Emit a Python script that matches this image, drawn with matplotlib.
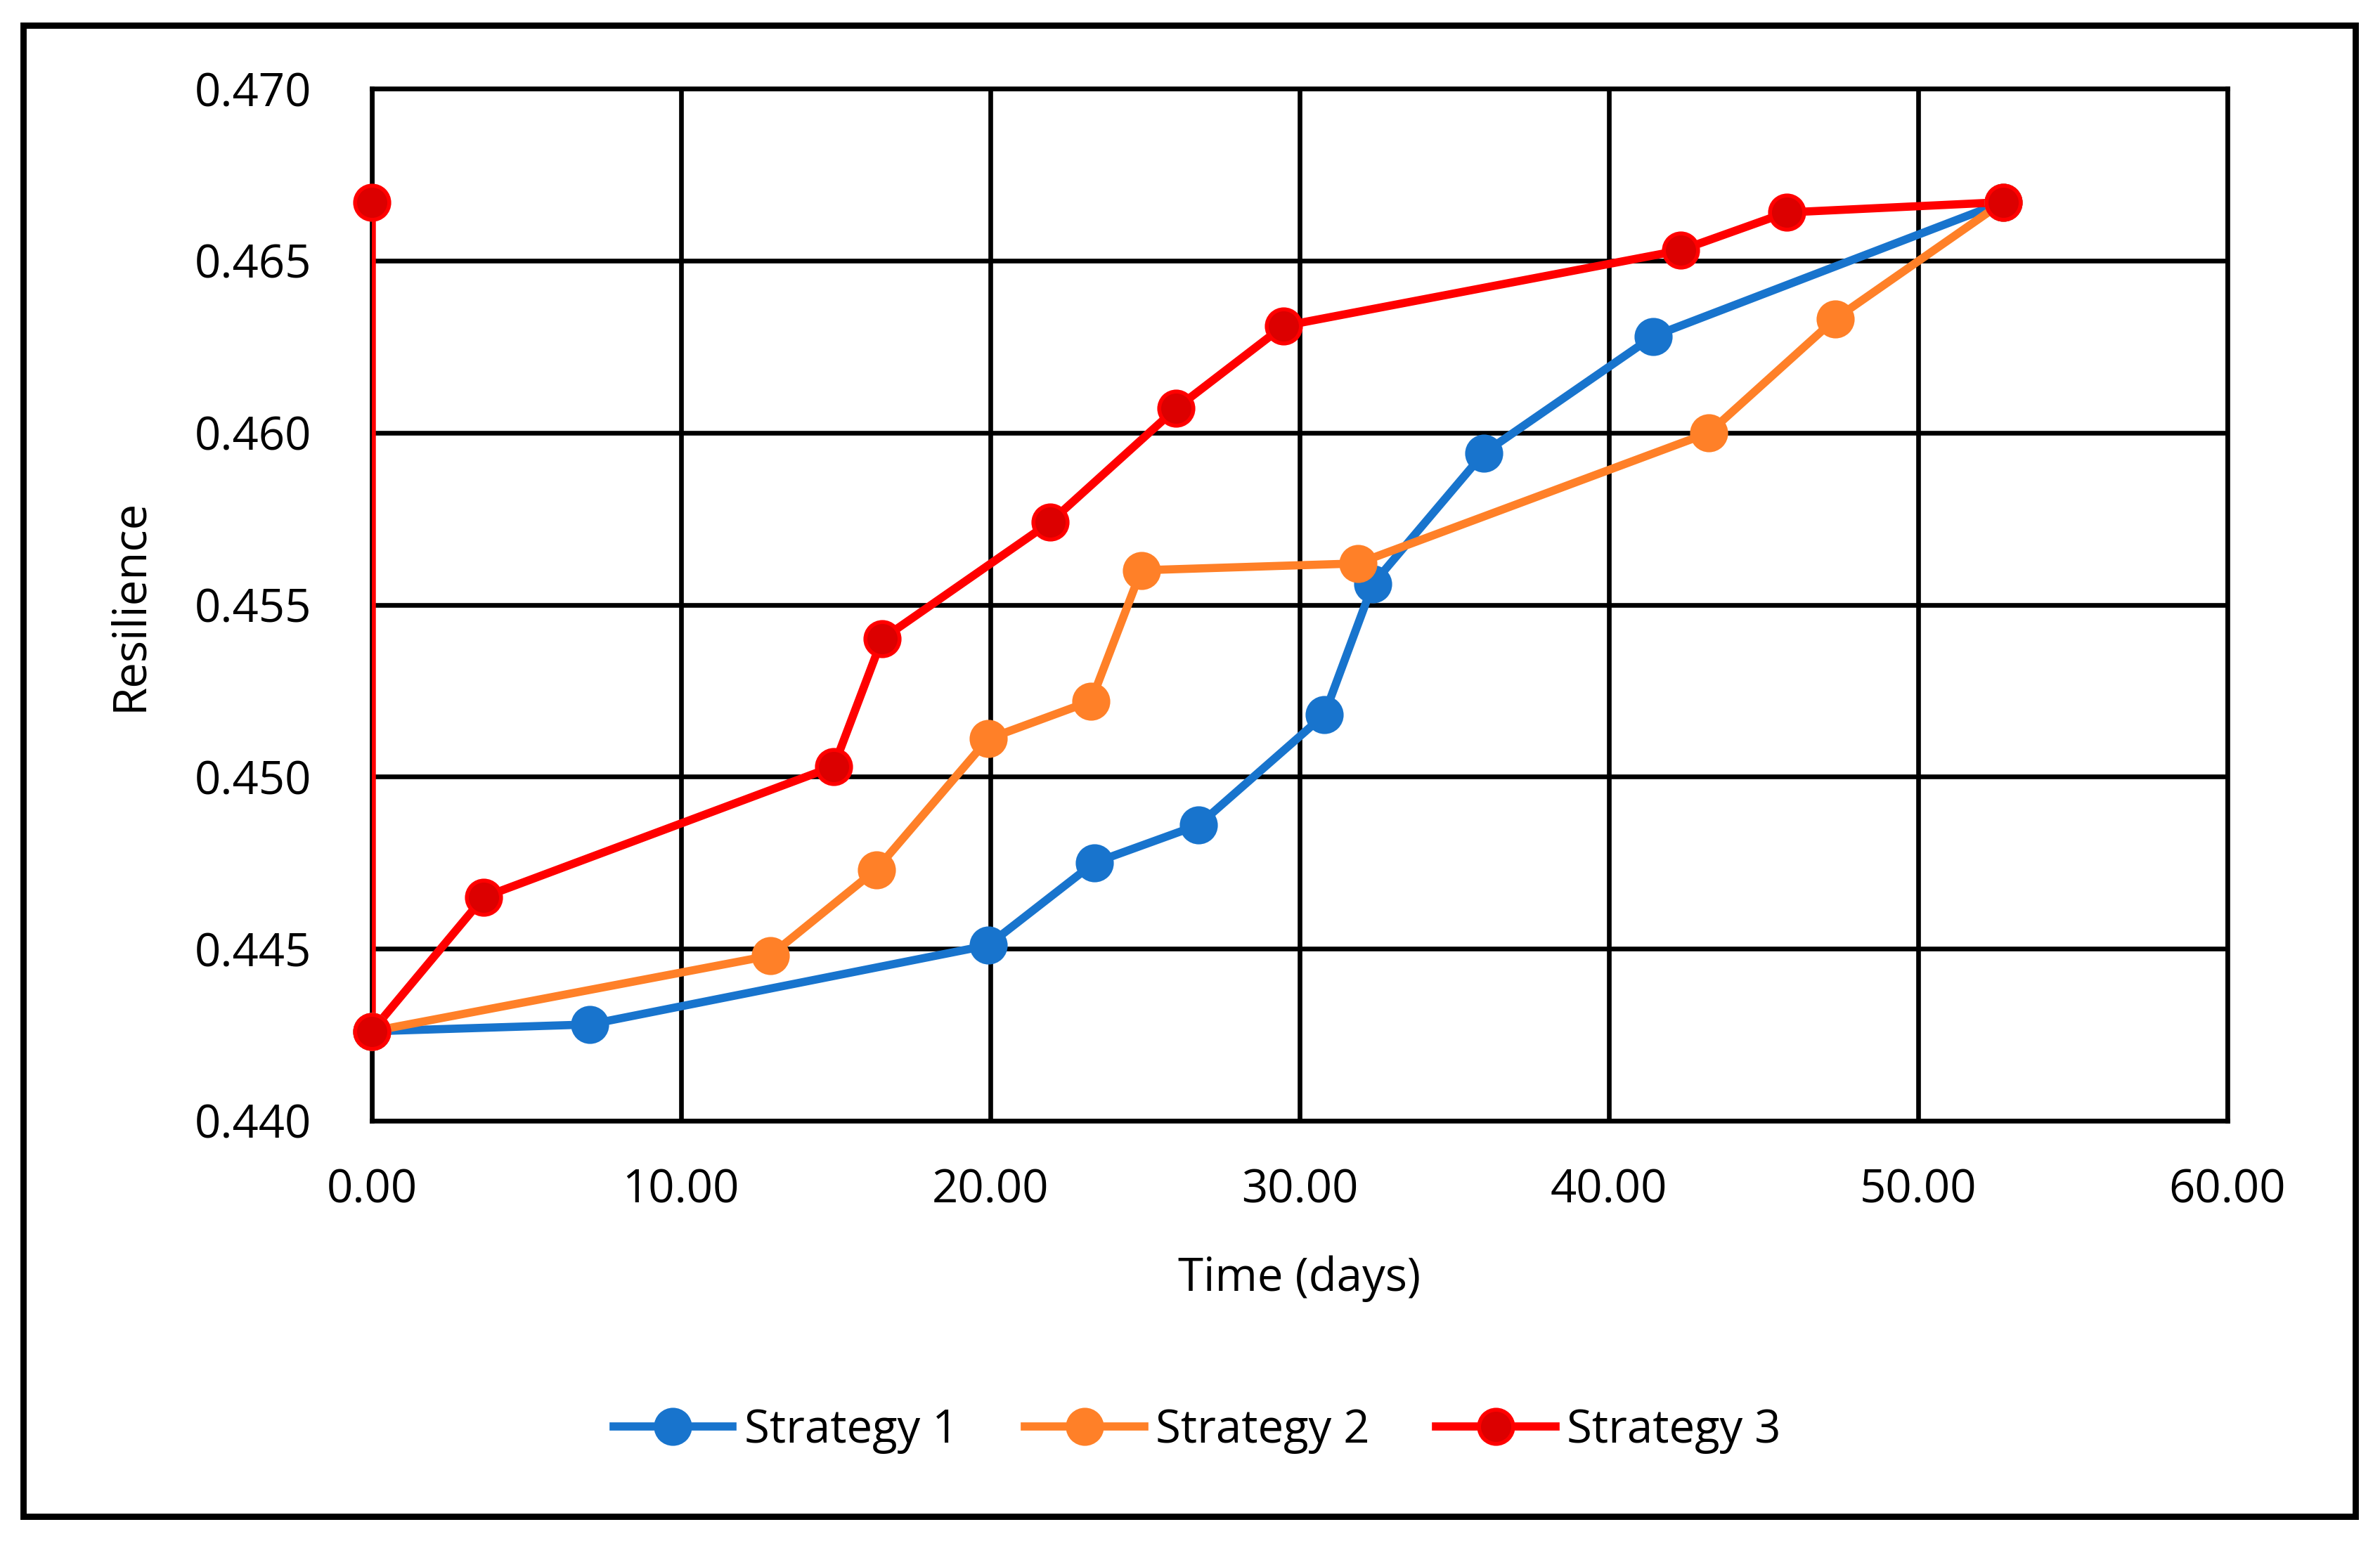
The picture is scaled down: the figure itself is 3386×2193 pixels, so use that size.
import matplotlib
matplotlib.use("Agg")
import matplotlib.pyplot as plt
from matplotlib.lines import Line2D
from matplotlib.patches import Rectangle
from matplotlib.ticker import FormatStrFormatter, MultipleLocator

plt.rcParams['font.family'] = ['Open Sans', 'DejaVu Sans']

# Data
s1_time = [0.00, 7.05, 19.93, 23.36, 26.74, 30.80, 32.37, 35.95, 41.43, 52.74]
s1_res = [0.4426, 0.4428, 0.4451, 0.4475, 0.4486, 0.4518, 0.4556, 0.4594, 0.4628, 0.4667]

s2_time = [0.00, 12.88, 16.31, 19.93, 23.26, 24.88, 31.88, 43.24, 47.31, 52.74]
s2_res = [0.4426, 0.4448, 0.4473, 0.4511, 0.4522, 0.4560, 0.4562, 0.4600, 0.4633, 0.4667]

s3_time = [0.00, 0.00, 3.62, 14.94, 16.50, 21.94, 26.00, 29.48, 42.31, 45.74, 52.74]
s3_res = [0.4667, 0.4426, 0.4465, 0.4503, 0.4540, 0.4574, 0.4607, 0.4631, 0.4653, 0.4664, 0.4667]

series_names = ["Strategy 1", "Strategy 2", "Strategy 3"]
line_colors = ["#1874CD", "#FF8028", "#FF0000"]
marker_faces = ["#1874CD", "#FF8028", "#DC0000"]

fig = plt.figure(figsize=(3386 / 200, 2193 / 200), dpi=200)
ax = fig.add_axes([0.1562, 0.2727, 0.7797, 0.6698])

fs = 23.5
lw = 4.2
ms = 17.5

handles = []
for xs, ys, name, lc, mf in zip([s1_time, s2_time, s3_time], [s1_res, s2_res, s3_res],
                               series_names, line_colors, marker_faces):
    ax.plot(xs, ys, color=lc, linewidth=lw, solid_capstyle="butt", zorder=3)
    ax.plot(xs, ys, linestyle="none", marker="o", markersize=ms, markerfacecolor=mf,
            markeredgecolor=lc, markeredgewidth=2.0, clip_on=False, zorder=4)
    handles.append(Line2D([], [], color=lc, linewidth=lw, marker="o", markersize=ms,
                          markerfacecolor=mf, markeredgecolor=lc, markeredgewidth=2.0,
                          label=name))

ax.set_xlim(0, 60)
ax.set_ylim(0.440, 0.470)
ax.xaxis.set_major_locator(MultipleLocator(10))
ax.yaxis.set_major_locator(MultipleLocator(0.005))
ax.xaxis.set_major_formatter(FormatStrFormatter("%.2f"))
ax.yaxis.set_major_formatter(FormatStrFormatter("%.3f"))

ax.grid(True, color="black", linewidth=2.4, zorder=1)
ax.set_axisbelow(True)
for sp in ax.spines.values():
    sp.set_color("black")
    sp.set_linewidth(2.4)

ax.tick_params(axis="both", length=0, labelsize=fs)
ax.tick_params(axis="x", pad=24)
ax.tick_params(axis="y", pad=31)

ax.set_xlabel("Time (days)", fontsize=fs)
ax.set_ylabel("Resilience", fontsize=fs)
ax.xaxis.set_label_coords(0.5, -0.153)
ax.xaxis.label.set_verticalalignment("center")
ax.yaxis.set_label_coords(-0.1303, 0.5)
ax.yaxis.label.set_verticalalignment("center")
ax.yaxis.label.set_horizontalalignment("center")

fig.legend(handles=handles, loc="center", bbox_to_anchor=(0.503, 0.0716), ncol=3,
           frameon=False, fontsize=fs, handlelength=2.6, handletextpad=0.25,
           columnspacing=1.45)

# outer chart border
fig.patches.append(Rectangle((0.0097, 0.0160), 0.9800, 0.9676, transform=fig.transFigure,
                             fill=False, edgecolor="black", linewidth=3.2))

fig.savefig("out.png", dpi=200, facecolor="white")
